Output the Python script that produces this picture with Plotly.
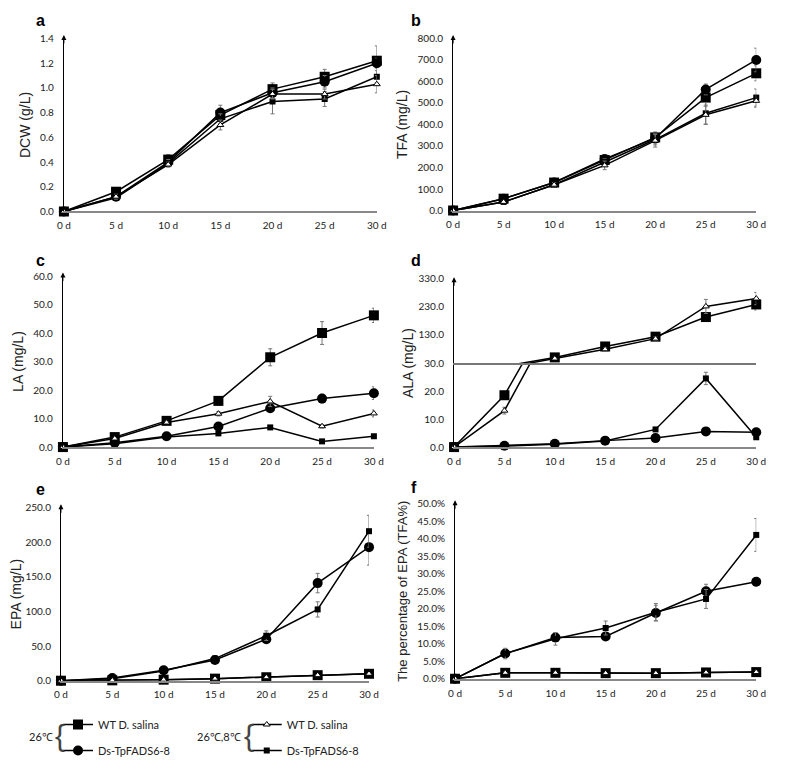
import plotly.graph_objects as go

# page is 785x773; the browser keeps an 8px body margin, so the figure is 769x757
OFF = 8
FW, FH = 785 - 2 * OFF, 773 - 2 * OFF

days = [0, 5, 10, 15, 20, 25, 30]
day_labels = ["0 d", "5 d", "10 d", "15 d", "20 d", "25 d", "30 d"]

# a - DCW (g/L)
dcw_wt26 = [0, 0.16, 0.42, 0.78, 0.99, 1.09, 1.22]
dcw_ds26 = [0, 0.12, 0.40, 0.80, 0.96, 1.05, 1.20]
dcw_wt8 = [0, 0.12, 0.38, 0.70, 0.95, 0.95, 1.03]
dcw_ds8 = [0, 0.11, 0.39, 0.75, 0.89, 0.91, 1.09]
dcw_wt26_err = [0, 0.03, 0.04, 0.05, 0.05, 0.06, 0.12]
dcw_ds26_err = [0, 0.02, 0.03, 0.06, 0.04, 0.05, 0.04]
dcw_wt8_err = [0, 0.02, 0.02, 0.04, 0.04, 0.04, 0.07]
dcw_ds8_err = [0, 0.01, 0.03, 0.04, 0.10, 0.06, 0.05]

# b - TFA (mg/L)
tfa_wt26 = [0, 55, 130, 235, 340, 525, 638]
tfa_ds26 = [0, 55, 130, 240, 335, 563, 700]
tfa_wt8 = [0, 40, 120, 210, 325, 445, 510]
tfa_ds8 = [0, 40, 120, 225, 330, 452, 525]
tfa_wt26_err = [0, 5, 10, 15, 25, 40, 35]
tfa_ds26_err = [0, 5, 10, 15, 20, 25, 55]
tfa_wt8_err = [0, 5, 10, 20, 30, 45, 30]
tfa_ds8_err = [0, 5, 10, 15, 25, 50, 40]

# c - LA (mg/L)
la_wt26 = [0, 3.5, 9.2, 16.2, 31.5, 40.0, 46.2]
la_ds26 = [0, 1.5, 3.8, 7.2, 13.6, 17.0, 18.9]
la_wt8 = [0, 3.0, 8.6, 11.7, 16.0, 7.3, 11.8]
la_ds8 = [0, 1.2, 3.5, 4.8, 6.9, 2.0, 3.8]
la_wt26_err = [0, 0.3, 0.5, 1.5, 3.0, 4.0, 2.5]
la_ds26_err = [0, 0.2, 0.3, 0.5, 1.2, 1.5, 2.2]
la_wt8_err = [0, 0.3, 0.4, 0.8, 1.8, 0.6, 1.2]
la_ds8_err = [0, 0.1, 0.2, 0.3, 0.4, 0.3, 0.3]

# d - ALA (mg/L), broken axis at 30
ala_wt26 = [0, 18.5, 50, 89, 124, 194, 239]
ala_ds26 = [0, 0.5, 1.2, 2.3, 3.2, 5.6, 5.3]
ala_wt8 = [0, 13.0, 46, 79, 117, 232, 260]
ala_ds8 = [0, 0.3, 1.0, 2.2, 6.3, 24.5, 3.5]
ala_wt26_err = [0, 1.0, 3, 5, 8, 15, 20]
ala_ds26_err = [0, 0.1, 0.2, 0.2, 0.3, 0.4, 0.4]
ala_wt8_err = [0, 1.2, 3, 5, 7, 25, 22]
ala_ds8_err = [0, 0.1, 0.2, 0.2, 0.4, 2.2, 0.4]

# e - EPA (mg/L)
epa_wt26 = [0, 0.5, 1.5, 3.0, 5.0, 8.0, 10.0]
epa_ds26 = [0, 4, 15, 30, 60, 141, 193]
epa_wt8 = [0, 0.5, 1.5, 3.0, 5.0, 8.0, 10.0]
epa_ds8 = [0, 3, 14, 32, 65, 103, 216]
epa_wt26_err = [0, 0.2, 0.3, 0.5, 0.5, 0.8, 1.0]
epa_ds26_err = [0, 0.5, 1.5, 3, 4, 14, 26]
epa_wt8_err = [0, 0.2, 0.3, 0.5, 0.5, 0.8, 1.0]
epa_ds8_err = [0, 0.5, 1.5, 3, 7, 11, 23]

# f - EPA percentage of TFA (%)
pct_wt26 = [0, 1.7, 1.7, 1.6, 1.6, 1.8, 1.9]
pct_ds26 = [0, 7.2, 11.8, 12.1, 18.8, 25.0, 27.7]
pct_wt8 = [0, 1.7, 1.7, 1.6, 1.6, 1.8, 1.9]
pct_ds8 = [0, 7.2, 11.4, 14.5, 19.0, 22.8, 41.1]
pct_wt26_err = [0, 0.2, 0.2, 0.2, 0.2, 0.2, 0.2]
pct_ds26_err = [0, 1.0, 1.2, 1.0, 2.2, 2.0, 1.2]
pct_wt8_err = [0, 0.2, 0.2, 0.2, 0.2, 0.2, 0.2]
pct_ds8_err = [0, 1.5, 1.8, 2.0, 2.5, 2.7, 4.7]

series_names = ["WT D. salina", "Ds-TpFADS6-8", "Ds-TpFADS6-8", "WT D. salina"]
series_legend = ["legend", "legend", "legend2", "legend2"]
series_rank = [1, 2, 2, 1]
markers = [
    dict(symbol="square", size=10, color="black"),
    dict(symbol="circle", size=10, color="black"),
    dict(symbol="square", size=6, color="black"),
    dict(symbol="triangle-up", size=6, color="white", line=dict(color="black", width=1)),
]

TICK_FONT = dict(family="Lato, Open Sans, sans-serif", size=10, color="#222")
TITLE_FONT = dict(family="Liberation Sans, Arial, sans-serif", size=14, color="#222")


# page pixel -> paper fraction
def fx(px):
    return (px - OFF) / FW


def fy(py):
    return 1 - (py - OFF) / FH


def px_x(a, b):
    return [fx(a), fx(b)]


def px_y(top, bottom):
    return [fy(bottom), fy(top)]


def ax_id(n):
    return "" if n == 1 else str(n)


fig = go.Figure()


def add_series(n, values, errors, legend=False):
    # order: WT 26, Ds 26, Ds 26/8, WT 26/8 (triangle drawn last, on top)
    for i, (vals, errs) in enumerate(zip(values, errors)):
        fig.add_trace(go.Scatter(
            x=days, y=vals,
            mode="lines+markers",
            name=series_names[i],
            legend=series_legend[i],
            legendrank=series_rank[i],
            legendgroup=f"g{i}",
            showlegend=legend,
            line=dict(color="black", width=1.5),
            marker=markers[i],
            error_y=dict(type="data", array=errs, color="#777", thickness=1, width=2),
            cliponaxis=False,
            xaxis="x" + ax_id(n), yaxis="y" + ax_id(n),
        ))


def set_axes(n, xdom, ydom, yrange, dtick, fmt, title, suffix="", title_size=14,
             xlabels=True, tickvals=None, xline="#888"):
    xa = dict(domain=xdom, range=[0, 30], tickvals=days, ticktext=day_labels,
              showticklabels=xlabels, showgrid=False, zeroline=False,
              showline=True, linecolor=xline, linewidth=1.5, ticks="",
              ticklabelstandoff=4,
              tickfont=TICK_FONT, anchor="y" + ax_id(n), fixedrange=True)
    ya = dict(domain=ydom, range=yrange, showgrid=False, zeroline=False,
              showline=True, linecolor="black", linewidth=1, ticks="",
              ticklabelstandoff=7,
              tickformat=fmt, ticksuffix=suffix, tickfont=TICK_FONT,
              anchor="x" + ax_id(n), fixedrange=True)
    if tickvals is not None:
        ya["tickvals"] = tickvals
    else:
        ya["dtick"] = dtick
    if title:
        ya["title"] = dict(text=title, font=dict(TITLE_FONT, size=title_size), standoff=6)
    fig.update_layout({"xaxis" + ax_id(n): xa, "yaxis" + ax_id(n): ya})


def axis_arrow(n):
    fig.add_annotation(x=0, y=1.02, xref="x" + ax_id(n) + " domain", yref="y" + ax_id(n) + " domain",
                       ax=0, ay=10, showarrow=True, arrowhead=2, arrowsize=1,
                       arrowwidth=1, arrowcolor="black", text="")


def panel_label(txt, x, y):
    fig.add_annotation(x=fx(x), y=fy(y), xref="paper", yref="paper",
                       text=f"<b>{txt}</b>", showarrow=False, xanchor="left", yanchor="middle",
                       font=dict(family="Liberation Sans, Arial, sans-serif", size=16, color="black"))


# a
add_series(1, [dcw_wt26, dcw_ds26, dcw_ds8, dcw_wt8],
           [dcw_wt26_err, dcw_ds26_err, dcw_ds8_err, dcw_wt8_err], legend=True)
set_axes(1, px_x(58, 378), px_y(32, 209), [0, 1.4], 0.2, ".1f", "DCW (g/L)")
axis_arrow(1)
panel_label("a", 27, 14)

# b
add_series(2, [tfa_wt26, tfa_ds26, tfa_ds8, tfa_wt8],
           [tfa_wt26_err, tfa_ds26_err, tfa_ds8_err, tfa_wt8_err])
set_axes(2, px_x(456, 766), px_y(32, 208), [0, 800], 100, ".1f", "TFA (mg/L)")
axis_arrow(2)
panel_label("b", 411, 14)

# c
add_series(3, [la_wt26, la_ds26, la_ds8, la_wt8],
           [la_wt26_err, la_ds26_err, la_ds8_err, la_wt8_err])
set_axes(3, px_x(57, 375), px_y(275, 450), [0, 60], 10, ".1f", "LA (mg/L)")
axis_arrow(3)
panel_label("c", 27, 259)

# d - lower part (0-30) and upper part (30-330) share the same data
ala_vals = [ala_wt26, ala_ds26, ala_ds8, ala_wt8]
ala_errs = [ala_wt26_err, ala_ds26_err, ala_ds8_err, ala_wt8_err]
add_series(4, ala_vals, ala_errs)
add_series(5, ala_vals, ala_errs)
set_axes(4, px_x(457, 766), px_y(364, 450), [0, 30], 10, ".1f", None,
         tickvals=[0, 10, 20, 30])
set_axes(5, px_x(457, 766), px_y(278, 364), [30, 330], 100, ".1f", None,
         xlabels=False, tickvals=[130, 230, 330], xline="#777")
axis_arrow(5)
panel_label("d", 411, 259)
fig.add_annotation(x=fx(410), y=fy(364), xref="paper", yref="paper", text="ALA (mg/L)",
                   textangle=-90, showarrow=False, xanchor="center", yanchor="middle",
                   font=TITLE_FONT)

# e
add_series(6, [epa_wt26, epa_ds26, epa_ds8, epa_wt8],
           [epa_wt26_err, epa_ds26_err, epa_ds8_err, epa_wt8_err])
set_axes(6, px_x(55, 370), px_y(512, 689), [0, 250], 50, ".1f", "EPA (mg/L)")
axis_arrow(6)
panel_label("e", 27, 493)

# f
add_series(7, [pct_wt26, pct_ds26, pct_ds8, pct_wt8],
           [pct_wt26_err, pct_ds26_err, pct_ds8_err, pct_wt8_err])
set_axes(7, px_x(458, 766), px_y(508, 687), [0, 50], 5, ".1f",
         "The percentage of EPA (TFA%)", suffix="%", title_size=13)
axis_arrow(7)
panel_label("f", 411, 491)

# legend group labels with braces
LEG_FONT = dict(family="Lato, Open Sans, sans-serif", size=11, color="#222")
for label, lx, bx in [("26\u2103", 48, 54), ("26\u2103,8\u2103", 240, 247)]:
    fig.add_annotation(x=fx(lx), y=fy(746), xref="paper", yref="paper", text=label,
                       showarrow=False, xanchor="right", yanchor="middle", font=LEG_FONT,
                       borderpad=0)
    fig.add_annotation(x=fx(bx), y=fy(745), xref="paper", yref="paper", text="{",
                       showarrow=False, xanchor="center", yanchor="middle", borderpad=0,
                       font=dict(family="Liberation Sans, sans-serif", size=30, color="#444"))

legend_common = dict(orientation="v", bgcolor="rgba(0,0,0,0)", font=LEG_FONT,
                     itemwidth=30, tracegroupgap=7, yanchor="top", xanchor="left",
                     traceorder="grouped", itemclick=False, itemdoubleclick=False)
fig.update_layout(
    legend=dict(legend_common, x=fx(52), y=fy(719)),
    legend2=dict(legend_common, x=fx(245), y=fy(719)),
)

fig.update_layout(
    width=FW, height=FH,
    margin=dict(l=0, r=0, t=0, b=0),
    paper_bgcolor="white", plot_bgcolor="white",
    font=dict(family="Lato, Open Sans, sans-serif", color="#222"),
)

fig.write_html("out.html", config={"displayModeBar": False})
